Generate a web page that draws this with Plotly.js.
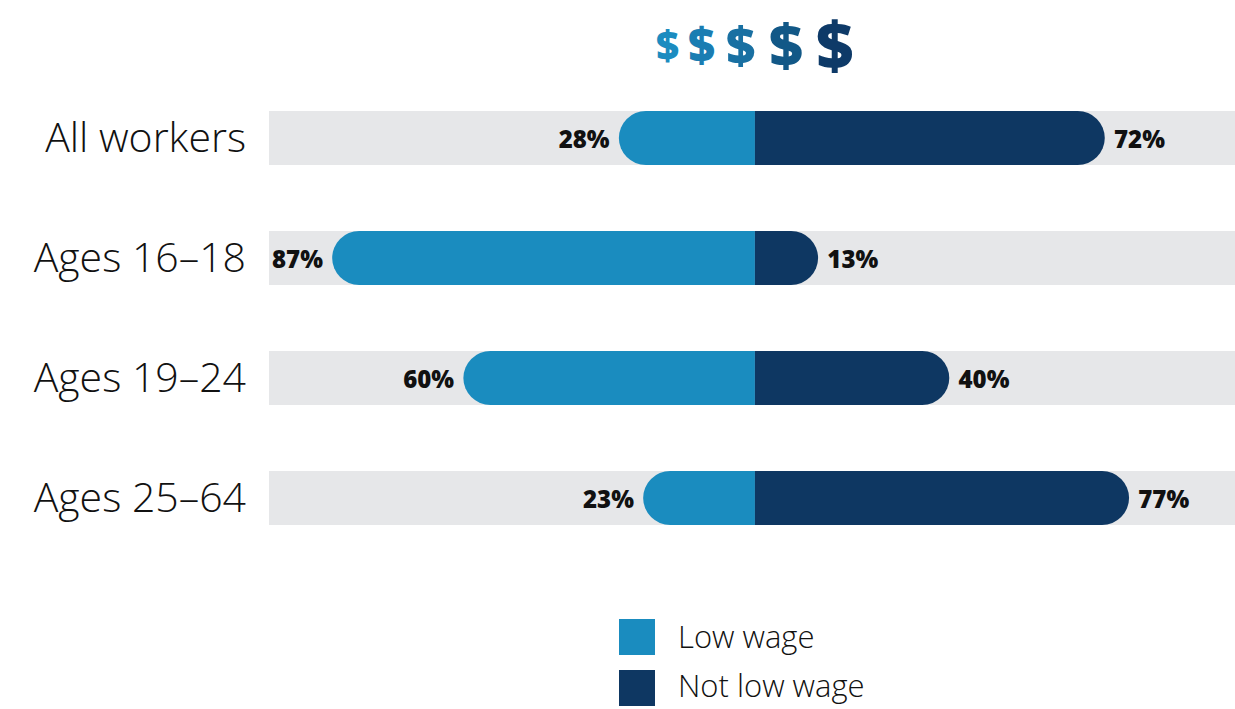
<!DOCTYPE html>
<html>
<head>
<meta charset="utf-8">
<script src="https://cdn.plot.ly/plotly-3.0.1.min.js"></script>
<style>
html,body{margin:0;padding:0;background:#fff;}
#chart{width:1235px;height:709px;}
</style>
</head>
<body>
<div id="chart"></div>
<script>
// ---- data ----
const categories = ["All workers", "Ages 16\u201318", "Ages 19\u201324", "Ages 25\u201364"];
const lowWage = [28, 87, 60, 23];
const notLowWage = [72, 13, 40, 77];
const seriesNames = ["Low wage", "Not low wage"];
const dollarSigns = ["$", "$", "$", "$", "$"];

// ---- styles ----
const cLow = "#1a8cbf";
const cNot = "#0e3762";
const cGrey = "#e6e7e9";
const W = 1235, H = 709;
const M = {l: 269, r: 0, t: 78, b: 151};
const pw = W - M.l - M.r, ph = H - M.t - M.b;
const px = x => (x - M.l) / pw;
const py = y => (H - M.b - y) / ph;

const labelFont = {family: "'Open Sans', Lato, sans-serif", size: 24, color: "#111", weight: 800};
const lightFam = "'Open Sans', Lato, sans-serif";

const traces = [
  {
    type: "bar", orientation: "h", y: categories, xaxis: "x", yaxis: "y",
    x: categories.map(() => 200), base: categories.map(() => -100),
    marker: {color: cGrey}, width: 0.45, hoverinfo: "skip", showlegend: false
  },
  {
    type: "bar", orientation: "h", y: categories, name: seriesNames[0], xaxis: "x", yaxis: "y2",
    x: lowWage.map(v => -v), text: lowWage.map(v => v + "% "),
    textposition: "outside", textfont: labelFont, constraintext: "none", cliponaxis: false,
    marker: {color: cLow, cornerradius: 27}, width: 0.45, hoverinfo: "skip", showlegend: false
  },
  {
    type: "bar", orientation: "h", y: categories, name: seriesNames[1], xaxis: "x", yaxis: "y2",
    x: notLowWage, text: notLowWage.map(v => " " + v + "%"),
    textposition: "outside", textfont: labelFont, constraintext: "none", cliponaxis: false,
    marker: {color: cNot, cornerradius: 27}, width: 0.45, hoverinfo: "skip", showlegend: false
  }
];

// dollar sign header
const dollarX = [667, 701, 740, 786, 835];
const dollarSize = [40, 47, 51, 59, 65];
const dollarColor = ["#1b8cc0", "#1a7db2", "#1970a2", "#125887", "#0e3a68"];
const dollarY = 44;

const annotations = dollarSigns.map((s, i) => ({
  xref: "paper", yref: "paper", x: px(dollarX[i]), y: py(dollarY),
  text: s, showarrow: false, xanchor: "center", yanchor: "middle",
  font: {family: "'Open Sans', Lato, sans-serif", size: dollarSize[i], color: dollarColor[i], weight: 800}
}));

// legend
const legY = [637, 688];
const legTextY = [636, 685];
const legColors = [cLow, cNot];
const shapes = [];
seriesNames.forEach((n, i) => {
  shapes.push({
    type: "rect", xref: "paper", yref: "paper",
    x0: px(619), x1: px(655), y0: py(legY[i] - 18), y1: py(legY[i] + 18),
    fillcolor: legColors[i], line: {width: 0}
  });
  annotations.push({
    xref: "paper", yref: "paper", x: px(676), y: py(legTextY[i]),
    text: n, showarrow: false, xanchor: "left", yanchor: "middle",
    font: {family: lightFam, size: 31, color: "#111", weight: 300}
  });
});

const yBase = {
  type: "category", autorange: "reversed", showgrid: false, zeroline: false,
  showline: false, ticks: "", fixedrange: true, categoryorder: "array", categoryarray: categories
};

const layout = {
  width: W, height: H,
  margin: M,
  paper_bgcolor: "#fff", plot_bgcolor: "#fff",
  barmode: "relative",
  showlegend: false,
  xaxis: {range: [-100, 98.8], visible: false, fixedrange: true},
  yaxis: Object.assign({}, yBase, {
    ticklabelstandoff: 22,
    tickfont: {family: lightFam, size: 41, color: "#111", weight: 300}
  }),
  yaxis2: Object.assign({}, yBase, {overlaying: "y", showticklabels: false}),
  annotations: annotations,
  shapes: shapes,
  hovermode: false
};

Plotly.newPlot("chart", traces, layout, {displayModeBar: false, staticPlot: true});
</script>
</body>
</html>
